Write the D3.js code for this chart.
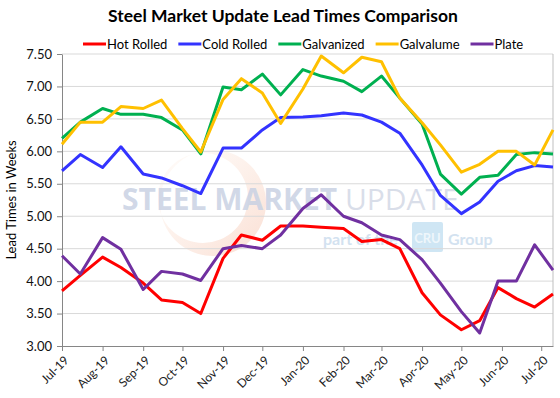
<!DOCTYPE html>
<html>
<head>
<meta charset="utf-8">
<script src="https://cdn.jsdelivr.net/npm/d3@7"></script>
<style>
  body { margin: 0; background: #fff; }
  svg { display: block; font-family: Lato, "Liberation Sans", sans-serif; }
</style>
</head>
<body>
<div id="chart"></div>
<script>
// survey dates (twice a month)
var dates = ["2019-07-01","2019-07-15","2019-08-01","2019-08-15","2019-09-01","2019-09-15",
  "2019-10-01","2019-10-15","2019-11-01","2019-11-15","2019-12-01","2019-12-15",
  "2020-01-01","2020-01-15","2020-02-01","2020-02-15","2020-03-01","2020-03-15",
  "2020-04-01","2020-04-15","2020-05-01","2020-05-15","2020-05-29","2020-06-12",
  "2020-06-26","2020-07-10"];

var hotRolled  = [3.85,4.09,4.37,4.21,3.97,3.71,3.67,3.50,4.35,4.71,4.63,4.85,4.85,4.83,4.81,4.61,4.64,4.50,3.82,3.48,3.25,3.39,3.90,3.73,3.60,3.80];
var coldRolled = [5.70,5.95,5.75,6.07,5.65,5.59,5.47,5.35,6.05,6.05,6.33,6.52,6.53,6.55,6.59,6.56,6.45,6.28,5.79,5.32,5.04,5.22,5.54,5.70,5.78,5.76];
var galvanized = [6.20,6.45,6.66,6.57,6.57,6.52,6.33,5.96,6.99,6.95,7.19,6.87,7.26,7.16,7.08,6.92,7.16,6.82,6.42,5.65,5.34,5.60,5.63,5.95,5.98,5.96];
var galvalume  = [6.11,6.45,6.45,6.69,6.66,6.79,6.35,5.99,6.80,7.12,6.90,6.43,6.96,7.47,7.21,7.45,7.38,6.82,6.44,6.10,5.68,5.80,6.00,6.00,5.79,6.33];
var plate      = [4.39,4.11,4.67,4.49,3.87,4.15,4.11,4.01,4.50,4.55,4.50,4.71,5.12,5.33,5.00,4.90,4.71,4.64,4.33,3.97,3.53,3.20,4.00,4.00,4.56,4.17];

var seriesNames  = ["Hot Rolled","Cold Rolled","Galvanized","Galvalume","Plate"];
var seriesColors = ["#ff0000","#3333ff","#00b050","#ffc000","#7030a0"];
var yTicks = [3.0,3.5,4.0,4.5,5.0,5.5,6.0,6.5,7.0,7.5];

var width = 560, height = 398;
var margin = {top: 54, right: 7, bottom: 52, left: 62};

var parse = d3.timeParse("%Y-%m-%d");
var xDates = dates.map(parse);
var allSeries = [hotRolled, coldRolled, galvanized, galvalume, plate];

var svg = d3.select('#chart').append('svg')
  .attr('width', width)
  .attr('height', height);

var x = d3.scaleTime()
  .domain(d3.extent(xDates))
  .range([margin.left, width - margin.right]);
var y = d3.scaleLinear()
  .domain([3, 7.5])
  .range([height - margin.bottom, margin.top]);

//Title
svg.append('text')
  .text('Steel Market Update Lead Times Comparison')
  .attr('x', 283)
  .attr('y', 22)
  .attr('font-size', '17.5px')
  .attr('font-weight', 'bold')
  .attr('fill', '#000')
  .style('text-anchor', 'middle');

//Watermark
var wm = svg.append('g').attr('class', 'watermark');
var grad = svg.append('defs').append('linearGradient')
  .attr('id', 'ringGrad')
  .attr('x1', '0').attr('y1', '0').attr('x2', '1').attr('y2', '1');
grad.append('stop').attr('offset', '0%').attr('stop-color', '#fdeee2').attr('stop-opacity', 0.2);
grad.append('stop').attr('offset', '100%').attr('stop-color', '#f4b69c').attr('stop-opacity', 0.45);
var cx = 213, cy = 203;
wm.append('path')
  .attr('d', d3.arc()({innerRadius: 0, outerRadius: 53, startAngle: 0, endAngle: 2 * Math.PI}) +
    ' M-55,-5 a45,45 0 1,0 90,0 a45,45 0 1,0 -90,0 Z')
  .attr('transform', 'translate(' + cx + ',' + cy + ')')
  .attr('fill', 'url(#ringGrad)')
  .attr('fill-rule', 'evenodd');
var wmText = wm.append('text')
  .attr('x', 122)
  .attr('y', 210)
  .attr('font-size', '30px')
  .attr('font-family', '"Open Sans", Lato, sans-serif')
  .attr('fill', '#c9d1e3')
  .attr('fill-opacity', 0.85);
wmText.append('tspan').attr('font-weight', 'bold').text('STEEL MARKET ');
wmText.append('tspan').attr('font-weight', 'normal').attr('fill', '#d3d8e6').text('UPDATE');
wm.append('text')
  .text('part of the')
  .attr('x', 323).attr('y', 245)
  .attr('font-size', '16px').attr('font-weight', 'bold')
  .attr('fill', '#d3e2f0');
wm.append('rect')
  .attr('x', 412).attr('y', 222).attr('width', 31).attr('height', 30).attr('rx', 2)
  .attr('fill', '#cfe6f4');
wm.append('text')
  .text('CRU')
  .attr('x', 427.5).attr('y', 243)
  .attr('font-size', '13px').attr('font-weight', 'bold')
  .attr('fill', '#eef6fb')
  .style('text-anchor', 'middle');
wm.append('text')
  .text('Group')
  .attr('x', 448).attr('y', 245)
  .attr('font-size', '16px').attr('font-weight', 'bold')
  .attr('fill', '#d3e2f0');

//Gridlines
svg.append('g').attr('class', 'grid')
  .selectAll('line')
  .data(yTicks.slice(1))
  .enter()
    .append('line')
      .attr('x1', margin.left)
      .attr('x2', width - margin.right)
      .attr('y1', function(d){ return y(d); })
      .attr('y2', function(d){ return y(d); })
      .attr('stroke', '#d9d9d9')
      .attr('stroke-width', 1);

// plot border (right side)
svg.append('line')
  .attr('x1', width - margin.right).attr('x2', width - margin.right)
  .attr('y1', margin.top).attr('y2', height - margin.bottom)
  .attr('stroke', '#bfbfbf');

//Y axis
var yAxis = svg.append('g')
  .attr('transform', 'translate(' + margin.left + ',0)')
  .call(d3.axisLeft(y).tickValues(yTicks).tickFormat(d3.format('.2f')).tickSize(5).tickSizeOuter(0));
yAxis.select('.domain').attr('stroke', '#868686');
yAxis.selectAll('.tick line').attr('stroke', '#868686');
yAxis.selectAll('.tick text')
  .attr('x', -10)
  .attr('font-size', '13px')
  .attr('font-family', 'Lato, sans-serif')
  .attr('fill', '#111');

//X axis
var xAxis = svg.append('g')
  .attr('transform', 'translate(0,' + (height - margin.bottom) + ')')
  .call(d3.axisBottom(x).ticks(d3.timeMonth.every(1)).tickFormat(d3.timeFormat('%b-%y')).tickSize(5).tickSizeOuter(0));
xAxis.select('.domain').attr('stroke', '#868686');
xAxis.selectAll('.tick line').attr('stroke', '#868686');
xAxis.selectAll('.tick text')
  .attr('font-size', '12px')
  .attr('font-family', 'Lato, sans-serif')
  .attr('fill', '#222')
  .attr('x', 0).attr('y', 0).attr('dy', 0)
  .style('text-anchor', 'end')
  .attr('transform', 'translate(7,15) rotate(-45)');

//Y axis title
svg.append('text')
  .text('Lead Times in Weeks')
  .attr('transform', 'translate(16,' + ((margin.top + height - margin.bottom) / 2) + ') rotate(-90)')
  .attr('font-size', '13px')
  .attr('fill', '#000')
  .style('text-anchor', 'middle');

//Lines
var line = d3.line()
  .x(function(d, i){ return x(xDates[i]); })
  .y(function(d){ return y(d); });

svg.append('g').attr('class', 'series')
  .selectAll('path')
  .data(allSeries)
  .enter()
    .append('path')
      .attr('d', line)
      .attr('fill', 'none')
      .attr('stroke', function(d, i){ return seriesColors[i]; })
      .attr('stroke-width', 3)
      .attr('stroke-linejoin', 'round');

//Legend
var legend = svg.append('g').attr('class', 'legend');
var lx = 83;
seriesNames.forEach(function(name, i){
  legend.append('line')
    .attr('x1', lx).attr('x2', lx + 23)
    .attr('y1', 44).attr('y2', 44)
    .attr('stroke', seriesColors[i])
    .attr('stroke-width', 3);
  var t = legend.append('text')
    .text(name)
    .attr('x', lx + 24)
    .attr('y', 49)
    .attr('font-size', '13px')
    .attr('fill', '#000');
  lx += 24 + t.node().getComputedTextLength() + 11;
});
</script>
</body>
</html>
